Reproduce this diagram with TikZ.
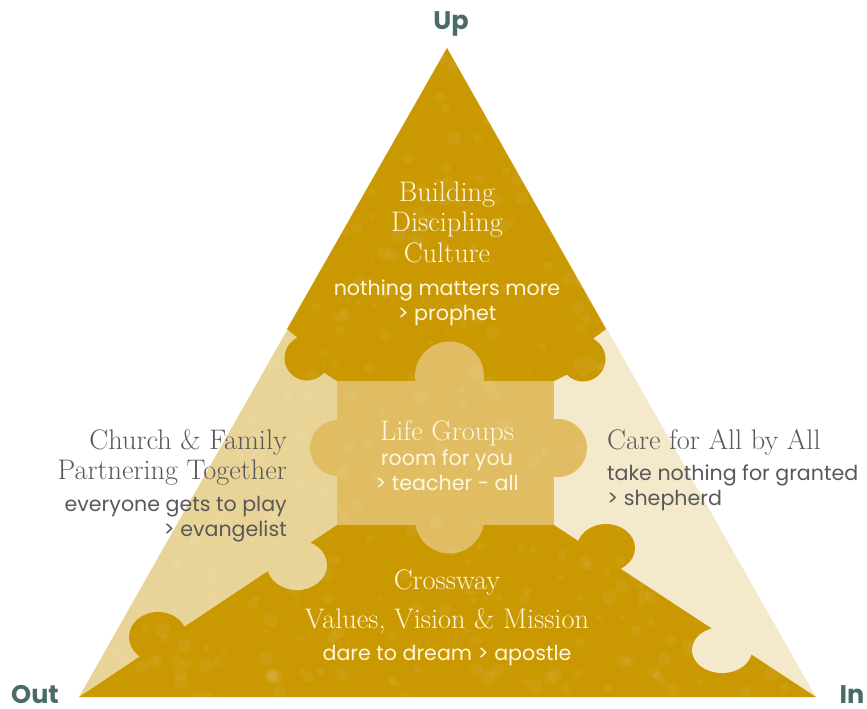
\documentclass[tikz,border=0pt]{standalone}
\usepackage{fontspec}
\newfontfamily\sansf{Poppins}
\definecolor{gold}{HTML}{CA9800}
\definecolor{leftc}{HTML}{E9D498}
\definecolor{rightc}{HTML}{F4E9CB}
\definecolor{midc}{HTML}{E0BD62}
\definecolor{wtxt}{HTML}{FFF6DE}
\definecolor{gtxt}{HTML}{595959}
\definecolor{ltxt}{HTML}{4A6B67}
\tikzset{
  sertitle/.style={font=\fontsize{28.3}{32}\selectfont, inner sep=0pt, anchor=base},
  sanssub/.style={font=\sansf\fontsize{20.6}{24}\selectfont, inner sep=0pt, anchor=base},
  corner/.style={font=\sansf\bfseries\fontsize{25.5}{28}\selectfont, text=ltxt, inner sep=0pt, anchor=base},
}
\begin{document}
\begin{tikzpicture}[x=1pt,y=-1pt]
\useasboundingbox (0,0) rectangle (867,709);
\coordinate (A) at (447,48);
\coordinate (L) at (79,697);
\coordinate (R) at (816,697);
% side pieces
\fill[leftc] (A) -- (L) -- (447,697) -- cycle;
\fill[rightc] (A) -- (447,697) -- (R) -- cycle;
% top piece
\fill[gold] (A) -- (287,329) -- (298,338) -- (320,370) -- (337,381) -- (554,381) -- (572,372) -- (594,338) -- (606,329) -- cycle;
\fill[gold] (307,358) circle (22.5pt);
\fill[gold] (583,359) circle (22.5pt);
% bottom piece
\fill[gold] (337,525) -- (L) -- (R) -- (554,525) -- cycle;
\fill[gold] (158,637) ellipse [x radius=29pt, y radius=25pt];
\fill[gold] (606,548) ellipse [x radius=29pt, y radius=24pt];
\fill[leftc] (297,565) ellipse [x radius=30pt, y radius=25pt];
\fill[rightc] (722,650) ellipse [x radius=30pt, y radius=23pt];
% centre piece
\fill[midc] (337,381) rectangle (554,525);
\fill[midc] (449.5,376) circle (34.5pt);
\fill[midc] (449.5,519) circle (34.5pt);
\fill[midc] (338,448) circle (28pt);
\fill[midc] (558,448) circle (29pt);
% bokeh dots
\begin{scope}
\clip (A) -- (L) -- (R) -- cycle;
\pgfmathsetseed{12}
\foreach \i in {1,...,700}{
  \pgfmathsetmacro\xx{80+735*rnd}
  \pgfmathsetmacro\yy{48+650*rnd}
  \pgfmathsetmacro\rr{1.5+6*rnd}
  \fill[white,opacity=0.055] (\xx,\yy) circle (\rr pt);
}
\end{scope}
% corner labels
\node[corner] (up) at (451,30) {Up};
\node[corner] (out) at (35,703) {Out};
\node[corner] (in) at (852,703) {In};
% top texts
\node[sertitle,text=wtxt] (t1) at (447,201) {Building};
\node[sertitle,text=wtxt] (t2) at (447,231) {Discipling};
\node[sertitle,text=wtxt] (t3) at (447,262) {Culture};
\node[sanssub,text=wtxt] (t4) at (447,295) {nothing matters more};
\node[sanssub,text=wtxt] (t5) at (447,320) {> prophet};
% centre texts
\node[sertitle,text=wtxt] (c1) at (447,440) {Life Groups};
\node[sanssub,text=wtxt] (c2) at (447,465) {room for you};
\node[sanssub,text=wtxt] (c3) at (447,490) {> teacher - all};
% left texts
\node[sertitle,text=gtxt,anchor=base east] (l1) at (287,449) {Church \& Family};
\node[sertitle,text=gtxt,anchor=base east] (l2) at (287,479) {Partnering Together};
\node[sanssub,text=gtxt,anchor=base east] (l3) at (287,511) {everyone gets to play};
\node[sanssub,text=gtxt,anchor=base east] (l4) at (287,536) {> evangelist};
% right texts
\node[sertitle,text=gtxt,anchor=base west] (r1) at (607,449) {Care for All by All};
\node[sanssub,text=gtxt,anchor=base west] (r2) at (607,480) {take nothing for granted};
\node[sanssub,text=gtxt,anchor=base west] (r3) at (607,505) {> shepherd};
% bottom texts
\node[sertitle,text=wtxt] (b1) at (447,589) {Crossway};
\node[sertitle,text=wtxt] (b2) at (447,628) {Values, Vision \& Mission};
\node[sanssub,text=wtxt] (b3) at (447,660) {dare to dream > apostle};
\end{tikzpicture}
\end{document}
